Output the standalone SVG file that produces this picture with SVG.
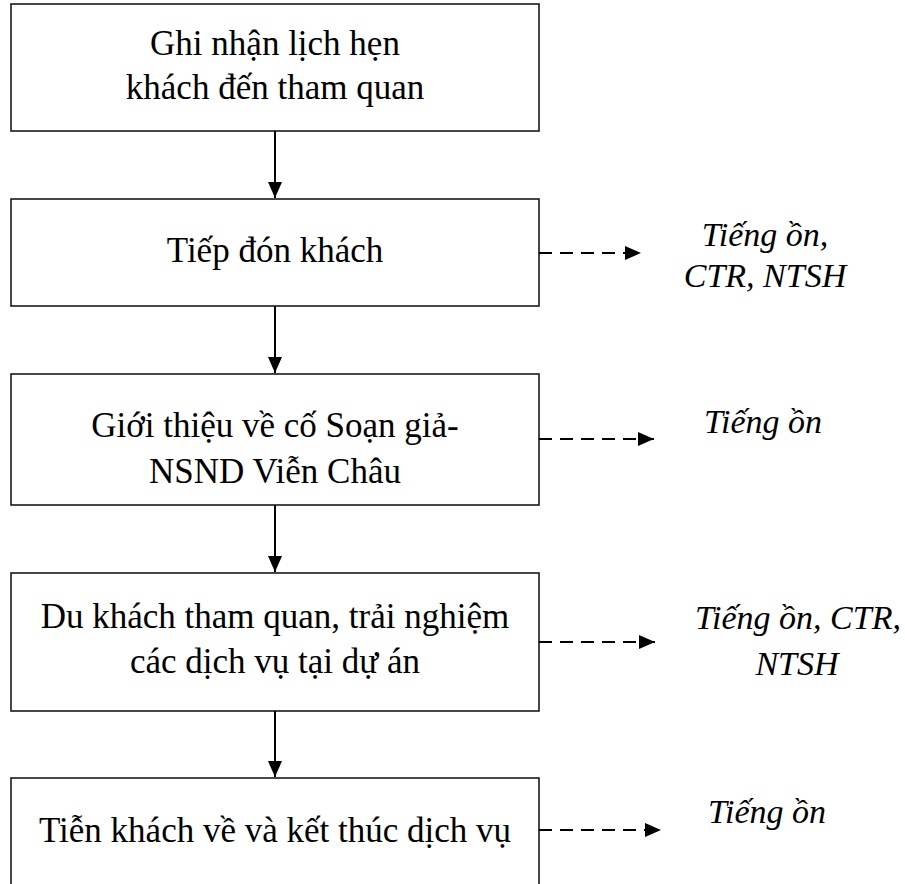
<svg xmlns="http://www.w3.org/2000/svg" width="905" height="884" viewBox="0 0 905 884">
<defs>
<marker id="ah" markerUnits="userSpaceOnUse" markerWidth="16" markerHeight="14" refX="16" refY="7" orient="auto">
<path d="M0,0 L16,7 L0,14 z" fill="#000"/>
</marker>
</defs>
<rect width="905" height="884" fill="#fff"/>
<g fill="#fff" stroke="#1a1a1a" stroke-width="1.6">
<g id="n1"><rect x="11" y="4" width="528" height="127"/></g>
<g id="n2"><rect x="11" y="199" width="528" height="107"/></g>
<g id="n3"><rect x="11" y="374" width="528" height="131"/></g>
<g id="n4"><rect x="11" y="573" width="528" height="138"/></g>
<g id="n5"><rect x="11" y="778" width="528" height="130"/></g>
</g>
<g id="labels">
<text x="275" y="55" font-family="Liberation Serif" font-size="35" text-anchor="middle">Ghi nhận lịch hẹn</text>
<text x="275" y="99" font-family="Liberation Serif" font-size="35" text-anchor="middle">khách đến tham quan</text>
<text x="275" y="262" font-family="Liberation Serif" font-size="35" text-anchor="middle">Tiếp đón khách</text>
<text x="275" y="437" font-family="Liberation Serif" font-size="35" text-anchor="middle">Giới thiệu về cố Soạn giả-</text>
<text x="275" y="483" font-family="Liberation Serif" font-size="35" text-anchor="middle">NSND Viễn Châu</text>
<text x="275" y="628" font-family="Liberation Serif" font-size="35" text-anchor="middle">Du khách tham quan, trải nghiệm</text>
<text x="275" y="673" font-family="Liberation Serif" font-size="35" text-anchor="middle">các dịch vụ tại dự án</text>
<text x="275" y="842" font-family="Liberation Serif" font-size="35" text-anchor="middle">Tiễn khách về và kết thúc dịch vụ</text>
</g>
<g id="outputs">
<text x="765" y="246" font-family="Liberation Serif" font-size="34" font-style="italic" text-anchor="middle">Tiếng ồn,</text>
<text x="765" y="287" font-family="Liberation Serif" font-size="34" font-style="italic" text-anchor="middle">CTR, NTSH</text>
<text x="763" y="433" font-family="Liberation Serif" font-size="34" font-style="italic" text-anchor="middle">Tiếng ồn</text>
<text x="798" y="629" font-family="Liberation Serif" font-size="34" font-style="italic" text-anchor="middle">Tiếng ồn, CTR,</text>
<text x="797" y="675" font-family="Liberation Serif" font-size="34" font-style="italic" text-anchor="middle">NTSH</text>
<text x="767" y="823" font-family="Liberation Serif" font-size="34" font-style="italic" text-anchor="middle">Tiếng ồn</text>
</g>
<g id="connectors" stroke="#000" stroke-width="2" fill="none">
<line x1="275" y1="131" x2="275" y2="198" marker-end="url(#ah)"/>
<line x1="275" y1="306" x2="275" y2="373" marker-end="url(#ah)"/>
<line x1="275" y1="505" x2="275" y2="572" marker-end="url(#ah)"/>
<line x1="275" y1="711" x2="275" y2="777" marker-end="url(#ah)"/>
<g stroke-dasharray="13 8">
<line x1="539" y1="253" x2="641" y2="253" marker-end="url(#ah)"/>
<line x1="539" y1="439" x2="654" y2="439" marker-end="url(#ah)"/>
<line x1="539" y1="642" x2="655" y2="642" marker-end="url(#ah)"/>
<line x1="539" y1="830" x2="661" y2="830" marker-end="url(#ah)"/>
</g>
</g>
</svg>
